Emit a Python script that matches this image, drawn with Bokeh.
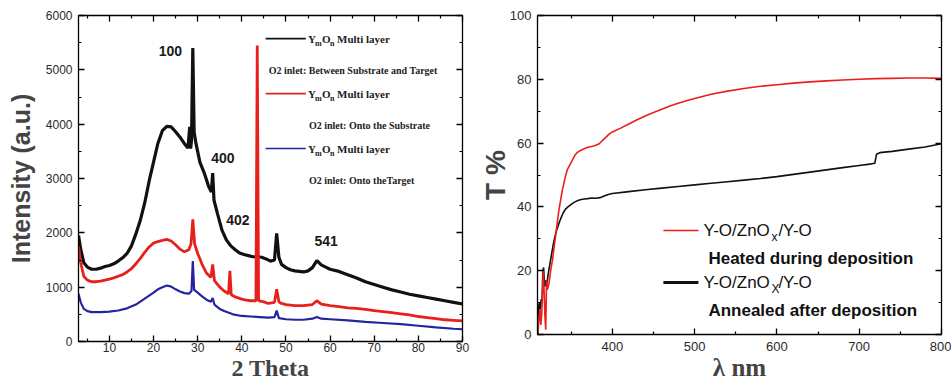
from bokeh.plotting import figure
from bokeh.models import LinearAxis, Label, FixedTicker, Range1d, CustomJSTickFormatter
from bokeh.layouts import row, column
from bokeh.embed import file_html
from bokeh.resources import INLINE

# ---------------- DATA: XRD (left panel) ----------------
xrd_black_x = [3.0, 3.5, 4.2, 5.0, 6.0, 7.0, 8.0, 9.0, 10.0, 11.0, 12.0, 13.0, 14.0, 15.0, 16.0, 17.0, 18.0, 19.0,
               20.0, 21.0, 22.0, 23.0, 24.0, 25.0, 26.0, 27.0, 27.8, 28.2, 28.4, 28.6, 28.9, 29.2, 29.6, 30.5,
               31.5, 32.5, 33.1, 33.4, 33.7, 34.5, 35.5, 36.5, 37.5, 38.5, 39.5, 40.5, 41.5, 42.5, 43.5, 44.5,
               45.5, 46.5, 47.4, 47.9, 48.4, 49.0, 50, 51, 52, 53, 54, 55, 56, 57, 58, 59, 60, 62, 64, 66, 68,
               70, 72, 74, 76, 78, 80, 82, 84, 86, 88, 90]
xrd_black_y = [1950, 1700, 1450, 1370, 1330, 1330, 1350, 1380, 1400, 1430, 1480, 1540, 1620, 1760, 1980, 2230,
               2550, 2950, 3300, 3650, 3880, 3960, 3950, 3860, 3760, 3640, 3560, 3950, 3550, 3700, 5400, 3850,
               3650, 3300, 3100, 2850, 2750, 3100, 2600, 2350, 2050, 1870, 1760, 1690, 1630, 1600, 1580, 1560,
               1560, 1550, 1520, 1480, 1500, 1990, 1550, 1420, 1360, 1320, 1300, 1290, 1280, 1300, 1360, 1490,
               1410, 1370, 1330, 1290, 1230, 1170, 1100, 1050, 1000, 950, 910, 870, 840, 810, 780, 750, 720, 690]

xrd_red_x = [3.0, 3.5, 4.2, 5, 6, 7, 8, 9, 10, 11, 12, 13, 14, 15, 16, 17, 18, 19, 20, 21, 22, 23, 24, 25, 26,
             27, 28, 28.5, 28.9, 29.3, 30, 31, 32, 33.0, 33.4, 33.8, 35, 36, 37.0, 37.3, 37.6, 38.5, 40, 41, 42,
             43.2, 43.5, 43.8, 45, 46, 47.4, 47.9, 48.4, 49, 50, 52, 54, 56, 57, 58, 60, 62, 64, 66, 68, 70,
             72, 74, 76, 78, 80, 82, 84, 86, 88, 90]
xrd_red_y = [1750, 1450, 1200, 1130, 1100, 1100, 1110, 1130, 1150, 1170, 1200, 1230, 1280, 1340, 1430, 1530,
             1640, 1740, 1810, 1840, 1860, 1880, 1850, 1780, 1700, 1650, 1690, 1800, 2250, 1800, 1620, 1420,
             1260, 1180, 1420, 1120, 1000, 930, 880, 1300, 860, 820, 780, 760, 750, 750, 5450, 750, 730, 700,
             720, 960, 730, 700, 680, 660, 660, 680, 750, 690, 660, 640, 620, 610, 590, 570, 550, 530, 510,
             490, 460, 440, 420, 400, 390, 380]

xrd_blue_x = [3.0, 3.5, 4.2, 5, 6, 8, 10, 12, 14, 16, 18, 20, 21, 22, 23, 24, 25, 26, 27, 28, 28.6, 28.9, 29.2,
              30, 31, 32, 33.0, 33.4, 33.8, 35, 36, 38, 40, 42, 44, 46, 47.4, 47.9, 48.4, 50, 52, 54, 56, 57,
              58, 60, 64, 68, 72, 76, 80, 84, 88, 90]
xrd_blue_y = [880, 720, 600, 560, 540, 540, 550, 570, 610, 680, 790, 900, 960, 1000, 1030, 1010, 960, 920, 890,
              880, 930, 1480, 950, 900, 830, 770, 730, 800, 680, 600, 560, 500, 470, 460, 450, 440, 450, 570,
              430, 410, 400, 400, 420, 450, 420, 410, 390, 360, 340, 320, 290, 260, 235, 225]

xrd_xticks = [10, 20, 30, 40, 50, 60, 70, 80, 90]
xrd_xminor = [5, 15, 25, 35, 45, 55, 65, 75, 85]
xrd_yticks = [0, 1000, 2000, 3000, 4000, 5000, 6000]
xrd_yminor = [500, 1500, 2500, 3500, 4500, 5500]

peak_labels = ["100", "400", "402", "541"]
peak_label_x = [23.8, 35.7, 39.1, 59.1]
peak_label_y = [5354, 3386, 2245, 1858]

xrd_legend_names = ["Between Substrate and Target", "Onto the Substrate", "Onto theTarget"]

# ---------------- DATA: transmittance (right panel) ----------------
t_red_x = [309.5, 311, 312, 313, 314, 315, 316, 317, 318, 319, 320, 321, 323, 325, 327, 329, 331, 333, 335, 337,
           339, 342, 345, 348, 351, 354, 357, 360, 364, 368, 372, 376, 380, 384, 388, 392, 396, 400, 410, 420,
           430, 440, 450, 460, 470, 480, 490, 500, 520, 540, 560, 580, 600, 620, 640, 660, 680, 700, 720, 740,
           760, 780, 800]
t_red_y = [0.5, 6, 8, 3, 6, 12, 20, 14, 6, 1.5, 17, 14, 16, 20, 23, 27, 31, 35, 39, 42, 45, 48.5, 51.5, 53,
           54.5, 56, 57, 57.5, 58, 58.5, 58.8, 59, 59.3, 59.8, 60.8, 61.8, 62.8, 63.5, 64.7, 66.0, 67.3, 68.5,
           69.6, 70.6, 71.6, 72.5, 73.3, 74.0, 75.3, 76.3, 77.1, 77.8, 78.3, 78.8, 79.2, 79.5, 79.8, 80.0,
           80.2, 80.3, 80.4, 80.4, 80.3]

t_black_x = [309.5, 310.5, 311.5, 312.5, 313.5, 314.5, 315.5, 316.5, 317.5, 318.5, 320, 322, 324, 326, 328, 330,
             332, 334, 336, 338, 340, 343, 346, 350, 354, 358, 362, 366, 370, 375, 380, 385, 390, 395, 400, 420,
             440, 460, 480, 500, 520, 540, 560, 580, 600, 620, 640, 660, 680, 700, 715, 719, 721, 725, 740, 760,
             780, 800]
t_black_y = [0, 9, 10, 8, 11, 10, 20, 21, 15, 17, 15, 19, 22, 25, 28, 30.5, 32.5, 34, 35.5, 36.8, 38, 39.3, 40,
             40.8, 41.5, 42, 42.3, 42.5, 42.6, 42.8, 42.7, 42.9, 43.4, 43.9, 44.2, 44.8, 45.4, 45.9, 46.4, 46.9,
             47.4, 47.9, 48.4, 48.9, 49.5, 50.2, 50.9, 51.6, 52.3, 53, 53.5, 53.7, 56.5, 57, 57.4, 58.1, 58.8,
             59.8]

t_xticks = [400, 500, 600, 700, 800]
t_xminor = [350, 450, 550, 650, 750]
t_yticks = [0, 20, 40, 60, 80, 100]
t_yminor = [10, 30, 50, 70, 90]

# ---------------- STYLE ----------------
BLACK = "#111111"
RED = "#e8201c"
BLUE = "#2424a0"
TICK_COLOR = "#2a2a2a"


def style_panel(p, xt, xm, yt, ym, tick_size):
    xb = p.below[0]
    yl = p.left[0]
    xticker = FixedTicker(ticks=xt, minor_ticks=xm)
    yticker = FixedTicker(ticks=yt, minor_ticks=ym)
    xb.ticker = xticker
    yl.ticker = yticker
    for ax in (xb, yl):
        ax.major_tick_in = 6
        ax.major_tick_out = 0
        ax.minor_tick_in = 3
        ax.minor_tick_out = 0
        ax.axis_line_color = "black"
        ax.axis_line_width = 1.3
        ax.major_tick_line_color = "black"
        ax.major_tick_line_width = 1.3
        ax.minor_tick_line_color = "black"
        ax.minor_tick_line_width = 1.2
        ax.major_label_text_font = "Liberation Sans"
        ax.major_label_text_font_size = tick_size
        ax.major_label_text_color = TICK_COLOR
    for loc, tk in (("right", yticker), ("above", xticker)):
        m = LinearAxis(ticker=tk, formatter=CustomJSTickFormatter(code="return ''"),
                       major_tick_in=6, major_tick_out=0, minor_tick_in=3, minor_tick_out=0,
                       major_tick_line_width=1.3, minor_tick_line_width=1.2,
                       major_label_standoff=0, major_label_text_font_size="1px",
                       axis_line_color="black", axis_line_width=1.3)
        p.add_layout(m, loc)
    p.xgrid.visible = False
    p.ygrid.visible = False
    p.outline_line_color = "black"
    p.background_fill_color = "white"
    p.border_fill_color = "white"
    return xb, yl


# ---------------- LEFT PANEL ----------------
p1 = figure(width=475, height=392, x_range=Range1d(3, 90), y_range=Range1d(0, 6000),
            output_backend="svg", toolbar_location=None,
            min_border_left=78, min_border_right=13, min_border_top=15, min_border_bottom=51)
xb1, yl1 = style_panel(p1, xrd_xticks, xrd_xminor, xrd_yticks, xrd_yminor, "12px")
xb1.major_label_standoff = 1
yl1.major_label_standoff = 6
xb1.axis_label = "2 Theta"
xb1.axis_label_text_font = "Liberation Serif"
xb1.axis_label_text_font_style = "bold"
xb1.axis_label_text_font_size = "24px"
xb1.axis_label_standoff = 0
yl1.axis_label = "Intensity (a.u.)"
yl1.axis_label_text_font = "Liberation Sans"
yl1.axis_label_text_font_style = "bold"
yl1.axis_label_text_font_size = "25px"
yl1.axis_label_standoff = 8

p1.line(xrd_black_x, xrd_black_y, line_color=BLACK, line_width=3.2)
p1.line(xrd_red_x, xrd_red_y, line_color=RED, line_width=2.8)
p1.line(xrd_blue_x, xrd_blue_y, line_color=BLUE, line_width=2.2)

for t, x, y in zip(peak_labels, peak_label_x, peak_label_y):
    p1.add_layout(Label(x=x, y=y, text=t, text_align="center", text_baseline="middle",
                        text_font="Liberation Sans", text_font_style="bold", text_font_size="14px",
                        text_color="#1a1a1a"))

# legend (annotation layout)
leg_line_x0, leg_line_x1, leg_text_x = 45.4, 54.5, 55.0
leg_row_y = [5575, 4563, 3551]
leg_sub_y = [4986, 3974, 2962]
leg_sub_x = [46.1, 55.2, 55.2]
leg_colors = [BLACK, RED, BLUE]
for i in range(3):
    p1.line([leg_line_x0, leg_line_x1], [leg_row_y[i], leg_row_y[i]], line_color=leg_colors[i], line_width=1.6)
    parts = [("Y", 0, 0, "11px"), ("m", 7, -5, "8px"), ("O", 14, 0, "11px"), ("n", 22, -5, "8px"),
             ("Multi layer", 29, 0, "11px")]
    for txt, dx, dy, fs in parts:
        p1.add_layout(Label(x=leg_text_x, y=leg_row_y[i], text=txt, x_offset=dx, y_offset=dy,
                            text_baseline="middle", text_font="Liberation Serif", text_font_style="bold",
                            text_font_size=fs, text_color="#222222"))
    p1.add_layout(Label(x=leg_sub_x[i], y=leg_sub_y[i], text="O2 inlet: " + xrd_legend_names[i],
                        text_baseline="middle", text_font="Liberation Serif", text_font_style="bold",
                        text_font_size="10px", text_color="#222222"))

# ---------------- RIGHT PANEL ----------------
p2 = figure(width=476, height=392, x_range=Range1d(309, 800), y_range=Range1d(0, 100),
            output_backend="svg", toolbar_location=None,
            min_border_left=62, min_border_right=10, min_border_top=15, min_border_bottom=58)
xb2, yl2 = style_panel(p2, t_xticks, t_xminor, t_yticks, t_yminor, "13px")
xb2.major_label_standoff = 7
yl2.major_label_standoff = 6
xb2.axis_label = "λ nm"
xb2.axis_label_text_font = "Liberation Serif"
xb2.axis_label_text_font_style = "bold"
xb2.axis_label_text_font_size = "25px"
xb2.axis_label_standoff = 0
yl2.axis_label = "T %"
yl2.axis_label_text_font = "Liberation Sans"
yl2.axis_label_text_font_style = "bold"
yl2.axis_label_text_font_size = "28px"
yl2.axis_label_standoff = -4

p2.line(t_black_x, t_black_y, line_color=BLACK, line_width=1.6)
p2.line(t_red_x, t_red_y, line_color=RED, line_width=1.6)

r_line_x0, r_line_x1, r_text_x, r_desc_x = 462, 504.6, 510.6, 516.7
r_row_y = [32.6, 16.3]
r_desc_y = [23.8, 7.5]
r_desc = ["Heated during deposition", "Annealed after deposition"]
r_colors = [RED, BLACK]
r_widths = [1.6, 3.2]
for i in range(2):
    p2.line([r_line_x0, r_line_x1], [r_row_y[i], r_row_y[i]], line_color=r_colors[i], line_width=r_widths[i])
    for txt, dx, dy, fs in [("Y-O/ZnO", 0, 0, "17px"), ("X" if i else "x", 68, -6, "12px"), ("/Y-O", 75, 0, "17px")]:
        p2.add_layout(Label(x=r_text_x, y=r_row_y[i], text=txt, x_offset=dx, y_offset=dy,
                            text_baseline="middle", text_font="Liberation Sans", text_font_size=fs,
                            text_color="#111111"))
    p2.add_layout(Label(x=r_desc_x, y=r_desc_y[i], text=r_desc[i], text_baseline="middle",
                        text_font="Liberation Sans", text_font_style="bold", text_font_size="17px",
                        text_color="#111111"))

layout = row(column(p1), column(p2))
open("out.html", "w").write(file_html(layout, INLINE))
